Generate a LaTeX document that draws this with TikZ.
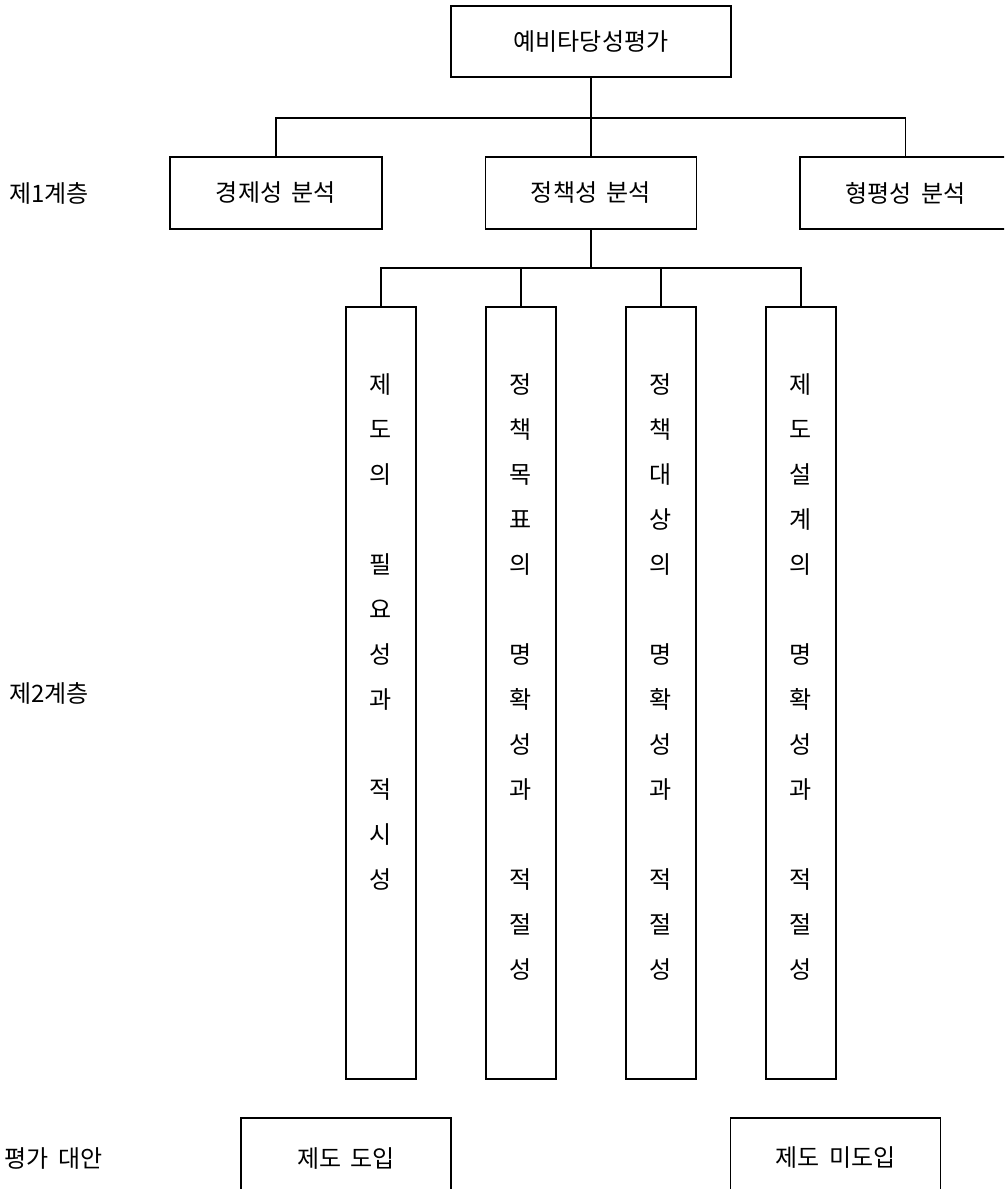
\documentclass[tikz,border=0pt]{standalone}
\usepackage{fontspec}
\setmainfont[WordSpace=1.8]{Noto Sans CJK KR}
\begin{document}
\begin{tikzpicture}[x=0.75pt,y=-0.75pt,
  box/.style={draw,line width=0.8pt,inner sep=0pt,minimum width=#1*0.75pt,minimum height=72*0.75pt,font=\fontsize{18}{22}\selectfont},
  tall/.style={draw,line width=0.8pt,inner sep=0pt,minimum width=70*0.75pt,minimum height=772*0.75pt},
  vtxt/.style={inner sep=0pt,anchor=north,align=center,font=\fontsize{18}{33.75}\selectfont},
  lbl/.style={inner sep=0pt,font=\fontsize{18}{22}\selectfont},
  conn/.style={line width=0.8pt}]
\useasboundingbox (0,0) rectangle (1004,1189);
\clip (0,0) rectangle (1004,1189);
% top
\node[box=280,minimum height=71*0.75pt] (top) at (591,41.5) {예비타당성평가};
% level 1
\node[box=212] (econ) at (276,193) {경제성 분석};
\node[box=211] (policy) at (591,193) {정책성 분석};
\node[box=211] (equity) at (905.5,193) {형평성 분석};
\coordinate (bus1) at (591,118);
\draw[conn] (top.south) -- (bus1);
\draw[conn] (econ.north) |- (bus1) -| (equity.north);
\draw[conn] (bus1) -- (policy.north);
% level 2
\node[tall] (t1) at (381,693) {};
\node[tall] (t2) at (521,693) {};
\node[tall] (t3) at (661,693) {};
\node[tall] (t4) at (801,693) {};
\node[vtxt] (t1txt) at (381,373) {제\\도\\의\\~\\필\\요\\성\\과\\~\\적\\시\\성};
\node[vtxt] (t2txt) at (521,373) {정\\책\\목\\표\\의\\~\\명\\확\\성\\과\\~\\적\\절\\성};
\node[vtxt] (t3txt) at (661,373) {정\\책\\대\\상\\의\\~\\명\\확\\성\\과\\~\\적\\절\\성};
\node[vtxt] (t4txt) at (801,373) {제\\도\\설\\계\\의\\~\\명\\확\\성\\과\\~\\적\\절\\성};
\coordinate (bus2) at (591,268);
\draw[conn] (policy.south) -- (bus2);
\draw[conn] (t1.north) |- (bus2) -| (t4.north);
\draw[conn] (t2.north) -- (t2.north |- bus2);
\draw[conn] (t3.north) -- (t3.north |- bus2);
% alternatives
\node[box=210,minimum height=80*0.75pt] (alt1) at (346,1158) {제도 도입};
\node[box=210,minimum height=80*0.75pt] (alt2) at (835.6,1158) {제도 미도입};
% side labels
\node[lbl] (l1) at (49,193) {제1계층};
\node[lbl] (l2) at (49,693) {제2계층};
\node[lbl,anchor=east] (l3) at (103,1158) {평가 대안};
\end{tikzpicture}
\end{document}
